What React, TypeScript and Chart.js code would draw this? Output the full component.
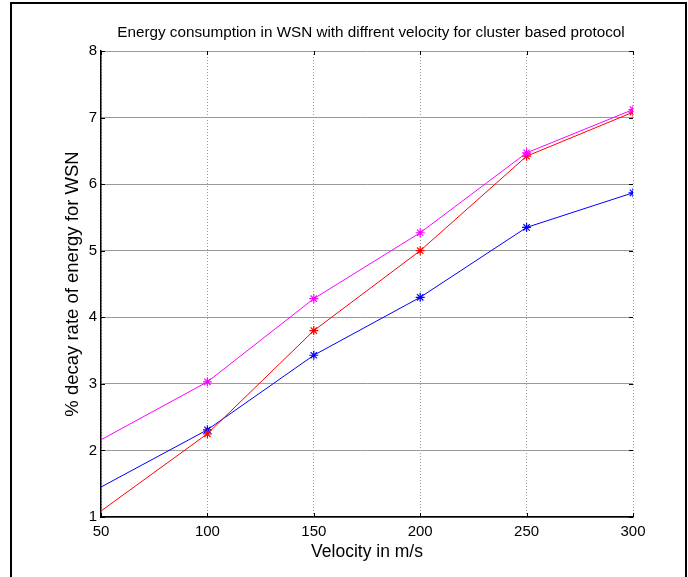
import React, { useEffect, useRef } from "react";
import { Chart, registerables } from "chart.js";

Chart.register(...registerables);

const velocity = [50, 100, 150, 200, 250, 300];
const magentaSeries = [2.16, 3.03, 4.28, 5.27, 6.47, 7.12];
const redSeries = [1.09, 2.25, 3.8, 5.0, 6.42, 7.08];
const blueSeries = [1.45, 2.31, 3.43, 4.3, 5.35, 5.87];
const markerRadius = [0, 4.5, 4.5, 4.5, 4.5, 4.5];

const titleText = "Energy consumption in WSN with diffrent velocity for cluster based protocol";
const xLabel = "Velocity in m/s";
const yLabel = "% decay rate of energy for WSN";

const FONT = "'Liberation Sans', Arial, sans-serif";

const frame = {
  id: "frame",
  beforeDraw(chart: any) {
    const ctx = chart.ctx;
    ctx.save();
    ctx.fillStyle = "#ffffff";
    ctx.fillRect(0, 0, chart.width, chart.height);
    ctx.restore();
  },
  afterDraw(chart: any) {
    const ctx = chart.ctx;
    const area = chart.chartArea;
    const xs = chart.scales.x;
    const ys = chart.scales.y;
    ctx.save();
    // inward tick marks
    ctx.strokeStyle = "#000";
    ctx.lineWidth = 1;
    ctx.beginPath();
    xs.ticks.forEach((t: any) => {
      const px = Math.round(xs.getPixelForValue(t.value)) + 0.5;
      ctx.moveTo(px, area.bottom);
      ctx.lineTo(px, area.bottom - 4);
      ctx.moveTo(px, area.top);
      ctx.lineTo(px, area.top + 4);
    });
    ys.ticks.forEach((t: any) => {
      const py = Math.round(ys.getPixelForValue(t.value)) + 0.5;
      ctx.moveTo(area.left, py);
      ctx.lineTo(area.left + 4, py);
      ctx.moveTo(area.right, py);
      ctx.lineTo(area.right - 4, py);
    });
    ctx.stroke();
    // outer frame
    ctx.lineWidth = 2;
    ctx.beginPath();
    ctx.moveTo(11, chart.height);
    ctx.lineTo(11, 3);
    ctx.lineTo(686, 3);
    ctx.lineTo(686, chart.height);
    ctx.stroke();
    ctx.fillStyle = "#000";
    ctx.font = "15.25px " + FONT;
    ctx.textAlign = "center";
    ctx.textBaseline = "middle";
    ctx.fillText(titleText, (area.left + area.right) / 2 + 4, 33);
    ctx.restore();
  },
};

function mk(label: string, data: number[], color: string) {
  return {
    label,
    data: velocity.map((v, i) => ({ x: v, y: data[i] })),
    borderColor: color,
    backgroundColor: color,
    borderWidth: 1,
    pointStyle: "star",
    pointRadius: markerRadius,
    pointHoverRadius: markerRadius,
    pointBorderColor: color,
    pointBorderWidth: 1.2,
    tension: 0,
  };
}

export default function App() {
  const ref = useRef<HTMLCanvasElement>(null);
  useEffect(() => {
    if (!ref.current) return;
    const chart = new Chart(ref.current, {
      type: "line",
      data: {
        datasets: [
          mk("magenta", magentaSeries, "#ff00ff"),
          mk("red", redSeries, "#ff0000"),
          mk("blue", blueSeries, "#0000ff"),
        ],
      },
      options: {
        animation: false,
        responsive: false,
        layout: { padding: { left: 62, right: 55, top: 51, bottom: 14 } },
        plugins: {
          legend: { display: false },
          tooltip: { enabled: false },
          title: { display: false },
        },
        scales: {
          x: {
            type: "linear",
            min: 50,
            max: 300,
            ticks: { stepSize: 50, color: "#000", font: { family: FONT, size: 15 }, padding: 6 },
            grid: { color: "#9a9a9a", lineWidth: 1, drawTicks: false },
            border: { display: true, color: "#000", width: 1.5, dash: [1, 2] },
            title: { display: true, text: xLabel, color: "#000", font: { family: FONT, size: 17.5 }, padding: { top: 4, bottom: 0 } },
            afterFit: (s: any) => { s.height = 46; },
          },
          y: {
            type: "linear",
            min: 1,
            max: 8,
            ticks: { stepSize: 1, color: "#000", font: { family: FONT, size: 15 }, padding: 4 },
            grid: { color: "#9a9a9a", lineWidth: 1, drawTicks: false },
            border: { display: true, color: "#000", width: 1.5 },
            title: { display: true, text: yLabel, color: "#000", font: { family: FONT, size: 18.5 }, padding: { top: 0, bottom: 0 } },
            afterFit: (s: any) => { s.width = 39; },
          },
        },
      },
      plugins: [frame],
    });
    return () => chart.destroy();
  }, []);
  return (
    <div style={{ position: "fixed", left: 0, top: 0, width: 688, height: 577 }}>
      <canvas ref={ref} width={688} height={577} />
    </div>
  );
}
